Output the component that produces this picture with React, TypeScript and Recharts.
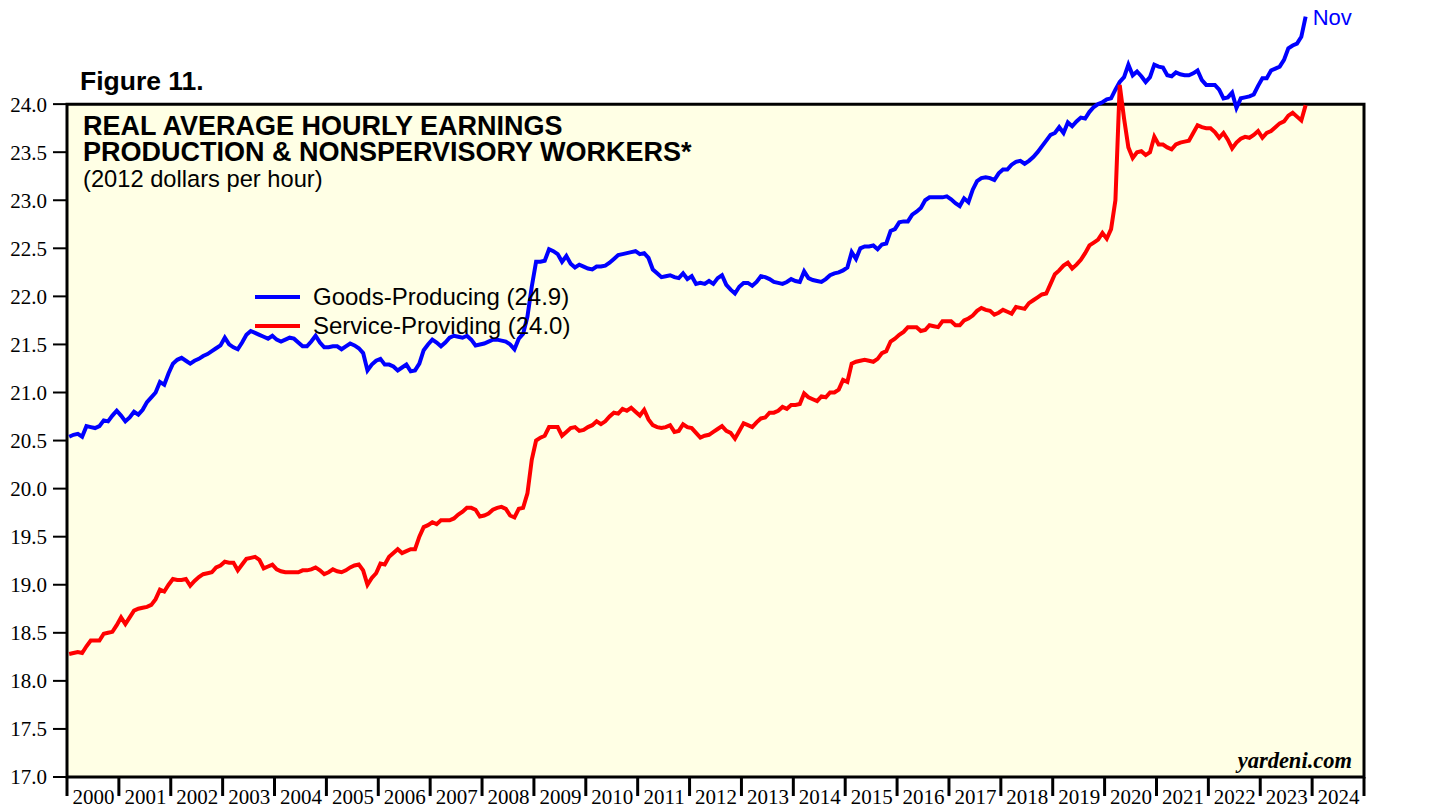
import React from "react";
import { LineChart, Line, XAxis, YAxis, ReferenceArea } from "recharts";

// monthly, Jan 2000 .. Nov 2023 (2012 dollars per hour)
const goods = [
  20.54, 20.56, 20.57, 20.54, 20.65, 20.64, 20.63, 20.65, 20.71, 20.70, 20.76, 20.81,
  20.76, 20.70, 20.74, 20.80, 20.77, 20.82, 20.90, 20.95, 21.00, 21.11, 21.08, 21.20,
  21.30, 21.34, 21.36, 21.33, 21.30, 21.33, 21.35, 21.38, 21.40, 21.43, 21.46, 21.49,
  21.57, 21.50, 21.47, 21.45, 21.52, 21.60, 21.64, 21.62, 21.60, 21.58, 21.56, 21.59,
  21.55, 21.53, 21.55, 21.57, 21.56, 21.52, 21.48, 21.48, 21.53, 21.59, 21.52, 21.47,
  21.47, 21.48, 21.48, 21.45, 21.48, 21.51, 21.49, 21.46, 21.41, 21.23, 21.29, 21.33,
  21.35, 21.29, 21.29, 21.27, 21.23, 21.26, 21.29, 21.22, 21.23, 21.30, 21.44, 21.50,
  21.55, 21.52, 21.48, 21.52, 21.57, 21.59, 21.58, 21.57, 21.59, 21.55, 21.49, 21.50,
  21.51, 21.53, 21.55, 21.55, 21.54, 21.53, 21.50, 21.45, 21.56, 21.61, 21.79, 22.10,
  22.36, 22.36, 22.37, 22.49, 22.47, 22.44, 22.36, 22.42, 22.34, 22.30, 22.33, 22.31,
  22.29, 22.28, 22.31, 22.31, 22.32, 22.35, 22.39, 22.43, 22.44, 22.45, 22.46, 22.47,
  22.44, 22.45, 22.40, 22.28, 22.24, 22.20, 22.21, 22.22, 22.20, 22.19, 22.24, 22.18,
  22.21, 22.13, 22.14, 22.13, 22.16, 22.13, 22.19, 22.22, 22.12, 22.07, 22.03, 22.10,
  22.14, 22.14, 22.11, 22.15, 22.21, 22.20, 22.18, 22.15, 22.14, 22.13, 22.15, 22.18,
  22.16, 22.15, 22.26, 22.19, 22.17, 22.16, 22.15, 22.18, 22.22, 22.24, 22.25, 22.27,
  22.30, 22.46, 22.39, 22.50, 22.52, 22.52, 22.53, 22.49, 22.54, 22.55, 22.68, 22.70,
  22.77, 22.78, 22.78, 22.85, 22.88, 22.92, 23.00, 23.03, 23.03, 23.03, 23.03, 23.04,
  23.01, 22.97, 22.94, 23.02, 22.98, 23.11, 23.20, 23.23, 23.24, 23.23, 23.21, 23.28,
  23.32, 23.32, 23.37, 23.40, 23.41, 23.38, 23.41, 23.45, 23.50, 23.56, 23.62, 23.68,
  23.70, 23.76, 23.70, 23.81, 23.77, 23.82, 23.86, 23.85, 23.92, 23.97, 24.00, 24.02,
  24.05, 24.06, 24.15, 24.23, 24.28, 24.41, 24.30, 24.34, 24.29, 24.23, 24.28, 24.41,
  24.39, 24.38, 24.30, 24.29, 24.33, 24.31, 24.30, 24.30, 24.32, 24.35, 24.25, 24.20,
  24.20, 24.20, 24.15, 24.06, 24.07, 24.12, 23.96, 24.06, 24.07, 24.08, 24.10, 24.19,
  24.27, 24.27, 24.35, 24.37, 24.39, 24.46, 24.58, 24.61, 24.63, 24.70, 24.91,
];

const services = [
  18.28, 18.29, 18.30, 18.29, 18.36, 18.42, 18.42, 18.42, 18.49, 18.50, 18.51, 18.58,
  18.66, 18.59, 18.66, 18.73, 18.75, 18.76, 18.77, 18.79, 18.85, 18.95, 18.93, 19.00,
  19.06, 19.05, 19.05, 19.06, 18.99, 19.04, 19.08, 19.11, 19.12, 19.13, 19.18, 19.20,
  19.24, 19.23, 19.23, 19.15, 19.21, 19.27, 19.28, 19.29, 19.26, 19.17, 19.19, 19.21,
  19.16, 19.14, 19.13, 19.13, 19.13, 19.13, 19.15, 19.15, 19.16, 19.18, 19.15, 19.11,
  19.13, 19.16, 19.14, 19.13, 19.15, 19.18, 19.20, 19.21, 19.15, 19.00, 19.07, 19.12,
  19.22, 19.21, 19.29, 19.33, 19.37, 19.33, 19.35, 19.37, 19.37, 19.50, 19.60, 19.62,
  19.65, 19.63, 19.67, 19.67, 19.67, 19.69, 19.73, 19.76, 19.80, 19.80, 19.78, 19.71,
  19.72, 19.74, 19.78, 19.80, 19.81, 19.79, 19.72, 19.70, 19.79, 19.80, 19.95, 20.30,
  20.50, 20.53, 20.55, 20.64, 20.64, 20.64, 20.55, 20.59, 20.63, 20.64, 20.60, 20.61,
  20.64, 20.66, 20.70, 20.67, 20.70, 20.75, 20.79, 20.78, 20.83, 20.81, 20.84, 20.80,
  20.76, 20.82, 20.72, 20.66, 20.64, 20.63, 20.64, 20.66, 20.59, 20.60, 20.67, 20.64,
  20.63, 20.58, 20.53, 20.55, 20.56, 20.59, 20.62, 20.65, 20.60, 20.58, 20.52, 20.60,
  20.68, 20.66, 20.64, 20.69, 20.73, 20.74, 20.79, 20.79, 20.81, 20.85, 20.83, 20.87,
  20.87, 20.88, 20.99, 20.95, 20.93, 20.91, 20.96, 20.95, 21.00, 21.00, 21.03, 21.13,
  21.11, 21.30, 21.32, 21.33, 21.34, 21.33, 21.32, 21.35, 21.41, 21.43, 21.53, 21.56,
  21.60, 21.63, 21.68, 21.68, 21.68, 21.64, 21.65, 21.70, 21.69, 21.68, 21.74, 21.74,
  21.74, 21.70, 21.70, 21.75, 21.77, 21.80, 21.85, 21.88, 21.86, 21.85, 21.81, 21.83,
  21.86, 21.84, 21.82, 21.89, 21.88, 21.87, 21.93, 21.96, 21.99, 22.02, 22.03, 22.13,
  22.23, 22.27, 22.32, 22.35, 22.29, 22.33, 22.38, 22.45, 22.53, 22.56, 22.59, 22.66,
  22.60, 22.70, 23.00, 24.20, 23.85, 23.55, 23.44, 23.50, 23.51, 23.47, 23.50, 23.66,
  23.58, 23.58, 23.55, 23.53, 23.58, 23.60, 23.61, 23.62, 23.70, 23.78, 23.76, 23.75,
  23.75, 23.71, 23.65, 23.70, 23.63, 23.54, 23.60, 23.64, 23.66, 23.65, 23.68, 23.72,
  23.65, 23.70, 23.72, 23.76, 23.80, 23.82, 23.88, 23.91, 23.87, 23.83, 23.99,
];

const yearTicks = [
  2000, 2001, 2002, 2003, 2004, 2005, 2006, 2007, 2008, 2009, 2010, 2011, 2012,
  2013, 2014, 2015, 2016, 2017, 2018, 2019, 2020, 2021, 2022, 2023, 2024, 2025,
];
const valueTicks = [17, 17.5, 18, 18.5, 19, 19.5, 20, 20.5, 21, 21.5, 22, 22.5, 23, 23.5, 24];

const data = goods.map((g, i) => ({
  t: 2000 + (i + 0.5) / 12,
  goods: g,
  services: services[i],
}));
const lastIndex = goods.length - 1;

const SERIF = "Liberation Serif";
const SANS = "Liberation Sans";

function YearTick({ x, y, payload }: any) {
  const year = payload.value;
  return (
    <g>
      <line x1={x} x2={x} y1={y} y2={y + 19} stroke="#000" strokeWidth={3} />
      {year < 2025 && (
        <text x={x + 26.5} y={y + 27} textAnchor="middle" fontSize={21} fontFamily={SERIF} fill="#000">
          {year}
        </text>
      )}
    </g>
  );
}

function NovLabel(props: any) {
  if (props.index !== lastIndex) return null;
  return (
    <text x={props.x + 7} y={props.y + 8} fill="#0000ff" fontSize={22} fontFamily={SANS}>
      Nov
    </text>
  );
}

// titles, legend and source drawn on top of the chart
function Annotations() {
  return (
    <svg
      width={1425}
      height={808}
      style={{ position: "absolute", left: 0, top: 0, pointerEvents: "none" }}
    >
      <g fontFamily={SANS} fill="#000">
        <text x={72} y={90} fontSize={26.5} fontWeight="bold">Figure 11.</text>
        <text x={75} y={135} fontSize={27} fontWeight="bold">REAL AVERAGE HOURLY EARNINGS</text>
        <text x={75} y={161} fontSize={27} fontWeight="bold">PRODUCTION &amp; NONSPERVISORY WORKERS*</text>
        <text x={75} y={187} fontSize={23.7}>(2012 dollars per hour)</text>
        <line x1={247} x2={292} y1={297} y2={297} stroke="#0000ff" strokeWidth={4} />
        <text x={305} y={305} fontSize={24}>Goods-Producing (24.9)</text>
        <line x1={247} x2={292} y1={326} y2={326} stroke="#ff0000" strokeWidth={4} />
        <text x={305} y={334} fontSize={24}>Service-Providing (24.0)</text>
        <text x={1344} y={768} textAnchor="end" fontFamily={SERIF} fontWeight="bold" fontStyle="italic" fontSize={22.5}>
          yardeni.com
        </text>
      </g>
    </svg>
  );
}

export default function App() {
  const yTick = { fontSize: 21, fontFamily: SERIF, fill: "#000" };
  return (
    <div style={{ position: "relative", width: 1425, height: 808, marginTop: -8 }}>
      <LineChart width={1425} height={808} data={data} margin={{ top: 8, right: 0, left: 0, bottom: 0 }}>
        <XAxis
          dataKey="t"
          type="number"
          domain={[2000, 2025]}
          ticks={yearTicks}
          interval={0}
          height={31}
          axisLine={false}
          tickLine={false}
          tickSize={0}
          tickMargin={0}
          tick={<YearTick />}
        />
        <YAxis
          yAxisId="left"
          domain={[17, 25]}
          ticks={valueTicks}
          width={59}
          axisLine={false}
          tickLine={{ stroke: "#000", strokeWidth: 2 }}
          tickSize={14}
          tickMargin={6}
          tick={yTick}
          tickFormatter={(v: number) => v.toFixed(1)}
        />
        <YAxis
          yAxisId="right"
          orientation="right"
          domain={[17, 25]}
          ticks={valueTicks}
          width={69}
          axisLine={false}
          tickLine={{ stroke: "#000", strokeWidth: 2 }}
          tickSize={14}
          tickMargin={6}
          tick={yTick}
          tickFormatter={(v: number) => v.toFixed(1)}
        />
        <ReferenceArea
          yAxisId="left"
          x1={2000}
          x2={2025}
          y1={17}
          y2={24}
          fill="#ffffe5"
          fillOpacity={1}
          stroke="#000"
          strokeWidth={3}
        />
        <Line
          yAxisId="left"
          dataKey="goods"
          stroke="#0000ff"
          strokeWidth={4}
          dot={false}
          isAnimationActive={false}
          label={NovLabel}
        />
        <Line
          yAxisId="left"
          dataKey="services"
          stroke="#ff0000"
          strokeWidth={4}
          dot={false}
          isAnimationActive={false}
        />
      </LineChart>
      <Annotations />
    </div>
  );
}
